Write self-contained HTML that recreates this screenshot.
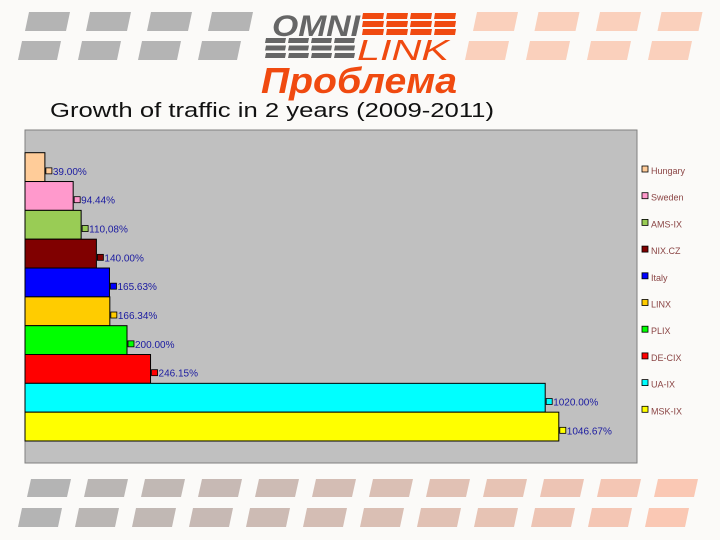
<!DOCTYPE html>
<html><head><meta charset="utf-8"><style>
body{margin:0;width:720px;height:540px;overflow:hidden;background:#fbfaf8;font-family:"Liberation Sans",sans-serif}
svg{display:block}
</style></head><body>
<svg width="720" height="540">
<g id="deco"></g>
<g>
<text x="272" y="36" font-size="30" font-weight="bold" font-style="italic" fill="#666" textLength="88" lengthAdjust="spacingAndGlyphs">OMNI</text>
<g id="lgrid"></g>
<text x="357" y="60" font-size="29" font-style="italic" fill="#f04a10" textLength="92" lengthAdjust="spacingAndGlyphs">LINK</text>
</g>
<text x="261" y="93" font-size="36" font-weight="bold" font-style="italic" fill="#f04a10" textLength="196" lengthAdjust="spacingAndGlyphs" font-family="Liberation Sans, DejaVu Sans, sans-serif">Проблема</text>
<text x="50" y="117" font-size="20" fill="#111" textLength="444" lengthAdjust="spacingAndGlyphs">Growth of traffic in 2 years (2009-2011)</text>
<rect x="25" y="130" width="612" height="333" fill="#c0c0c0" stroke="#808080"/>
<g id="bars"></g>
<g id="legend"></g>
</svg>
<script>
const categories=["Hungary","Sweden","AMS-IX","NIX.CZ","Italy","LINX","PLIX","DE-CIX","UA-IX","MSK-IX"];
const values=[39.00,94.44,110.08,140.00,165.63,166.34,200.00,246.15,1020.00,1046.67];
const valueLabels=["39.00%","94.44%","110,08%","140.00%","165.63%","166.34%","200.00%","246.15%","1020.00%","1046.67%"];
const colors=["#ffcc99","#ff99cc","#99cc55","#800000","#0000ff","#ffcc00","#00ff00","#ff0000","#00ffff","#ffff00"];
const NS="http://www.w3.org/2000/svg";
function mk(t,a,p){const e=document.createElementNS(NS,t);for(const k in a)e.setAttribute(k,a[k]);p.appendChild(e);return e;}
const x0=25,xMax=1200,pw=612;
const xs=v=>x0+v/xMax*pw;
const y0=152.7,bh=28.83;
const ys=i=>y0+i*bh;
const bars=document.getElementById('bars');
categories.forEach((c,i)=>{
 const r=mk('rect',{x:x0,y:ys(i),width:xs(values[i])-x0,height:bh,fill:colors[i],stroke:"#000","stroke-width":1},bars);
 
 
 const xe=xs(values[i]);
 const m=mk('rect',{x:xe+1,y:ys(i)+bh*0.63-3,width:6,height:6,fill:colors[i],stroke:"#000","stroke-width":0.8},bars);
 
 
 const t=mk('text',{x:xe+8,y:ys(i)+bh*0.63+4,"font-size":10,fill:"#1a1aa0"},bars);
 t.textContent=valueLabels[i];
 
 
});
const lg=document.getElementById('legend');
categories.forEach((c,i)=>{
 const y=171+i*26.7;
 const m=mk('rect',{x:642,y:y-5,width:6,height:6,fill:colors[i],stroke:"#000","stroke-width":0.8},lg);
 
 
 const t=mk('text',{x:651,y:y+3,"font-size":9,fill:"#8b4545"},lg);
 t.textContent=c;
 
 
});
const d=document.getElementById('deco');
function blk(x,y,w,h,col){const p=mk('polygon',{points:`${x+4},${y} ${x+w},${y} ${x+w-4},${y+h} ${x},${y+h}`,fill:col},d);}
for(let i=0;i<4;i++){blk(25+i*61,12,45,19,"#b4b4b4");blk(18+i*60,41,43,19,"#b4b4b4");}
for(let i=0;i<4;i++){blk(473+i*61.5,12,45,19,"#fad0bc");blk(465+i*61,41,44,19,"#fad0bc");}
function lerp(a,b,t){return Math.round(a+(b-a)*t);}
for(let i=0;i<12;i++){const t=i/11;const col=`rgb(${lerp(180,250,t)},${lerp(180,200,t)},${lerp(180,180,t)})`;
 blk(27+i*57,479,44,18,col);blk(18+i*57,508,44,19,col);}
const lgd=document.getElementById('lgrid');
for(let r=0;r<3;r++)for(let k=0;k<4;k++){const p=mk('polygon',{points:`${363+k*24},${13+r*8} ${384+k*24},${13+r*8} ${383+k*24},${19+r*8} ${362+k*24},${19+r*8}`,fill:"#f04a10"},lgd);}
for(let r=0;r<3;r++)for(let k=0;k<4;k++){const p=mk('polygon',{points:`${266+k*23},${38+r*7.5} ${286+k*23},${38+r*7.5} ${285+k*23},${43+r*7.5} ${265+k*23},${43+r*7.5}`,fill:"#666"},lgd);}
</script>
</body></html>
